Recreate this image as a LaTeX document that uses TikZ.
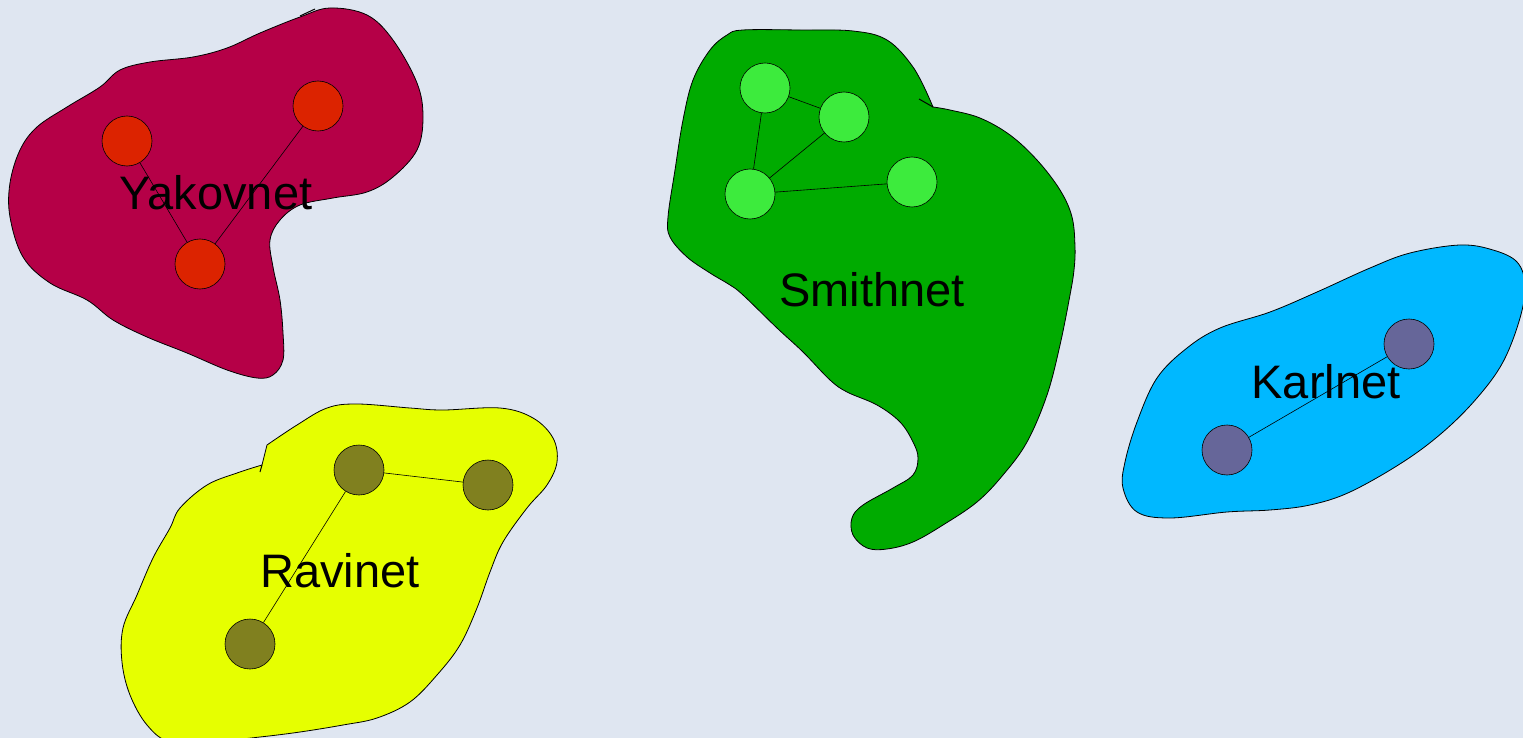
\documentclass[tikz,border=0pt]{standalone}
\usepackage{fontspec}
\setmainfont{Liberation Sans}
\definecolor{bg}{RGB}{223,230,241}
\definecolor{yakfill}{RGB}{181,0,71}
\definecolor{yaknode}{RGB}{220,35,0}
\definecolor{smifill}{RGB}{0,171,0}
\definecolor{sminode}{RGB}{61,235,61}
\definecolor{ravfill}{RGB}{230,255,0}
\definecolor{ravnode}{RGB}{128,128,31}
\definecolor{karfill}{RGB}{0,184,255}
\definecolor{karnode}{RGB}{102,102,153}
\tikzset{
  blob/.style={draw=black, line width=0.8pt},
  netnode/.style={circle, draw=black, line width=0.6pt, minimum size=50pt, inner sep=0pt},
  link/.style={draw=black, line width=0.6pt},
  netlabel/.style={font=\fontsize{47}{52}\selectfont, text=black, inner sep=0pt},
  notch/.style={draw=black, line width=1pt}
}
\begin{document}
\begin{tikzpicture}[x=1pt,y=-1pt]
\useasboundingbox (0,0) rectangle (1523,738);
\fill[bg] (0,0) rectangle (1523,738);
\clip (0,0) rectangle (1523,738);

% Yakovnet
\path[blob, fill=yakfill] plot[smooth cycle, tension=0.6] coordinates {
(300,17) (330,8) (367,15) (393,40) (417,83) (423,117) (417,150) (393,177) (367,192)
(333,198) (300,205) (280,220) (270,240) (273,267) (280,300) (283,333) (283,360)
(273,375) (257,378) (227,370) (187,353) (147,337) (113,320) (87,300) (50,283)
(23,257) (10,217) (10,183) (20,150) (37,127) (67,107) (100,87) (120,70) (150,62)
(193,57) (227,48) (260,33)};
\draw[notch] (300,16) -- (315,9);
\node[netnode, fill=yaknode] (y1) at (127,141) {};
\node[netnode, fill=yaknode] (y2) at (318,106) {};
\node[netnode, fill=yaknode] (y3) at (200,264) {};
\draw[link] (y1) -- (y3);
\draw[link] (y2) -- (y3);
\node[netlabel] (ylab) at (216,193) {Yakovnet};

% Smithnet
\path[blob, fill=smifill] plot[smooth, tension=0.6] coordinates {
(933,107) (950,110) (980,118) (1010,135) (1037,160) (1060,190) (1072,217) (1075,247)
(1074,270) (1070,295) (1060,345) (1047,395) (1027,442) (1003,475) (977,502) (943,525)
(913,542) (887,549) (867,548) (853,535) (852,518) (863,505) (893,488) (913,475)
(918,458) (913,442) (900,422) (877,405) (847,392) (830,380) (803,352) (777,328)
(743,295) (730,285) (710,273) (687,257) (670,237) (668,217) (675,170) (683,120)
(693,80) (710,50) (727,35) (743,30) (800,30) (853,31) (887,40) (913,67) (930,100)} -- cycle;
\draw[notch] (919,99) -- (933,107);
\node[netnode, fill=sminode] (s1) at (765,88) {};
\node[netnode, fill=sminode] (s2) at (844,117) {};
\node[netnode, fill=sminode] (s3) at (750,194) {};
\node[netnode, fill=sminode] (s4) at (912,182) {};
\draw[link] (s1) -- (s2);
\draw[link] (s1) -- (s3);
\draw[link] (s2) -- (s3);
\draw[link] (s3) -- (s4);
\node[netlabel] (slab) at (872,290) {Smithnet};

% Ravinet
\path[blob, fill=ravfill] plot[smooth, tension=0.6] coordinates {
(267,445) (297,425) (327,408) (357,404) (410,408) (443,410) (500,408) (533,418)
(553,438) (557,462) (547,485) (527,508) (503,542) (490,572) (477,608) (460,645)
(437,675) (410,702) (377,718) (343,725) (300,732) (260,737) (210,742) (170,742)
(147,725) (130,695) (122,662) (123,628) (137,595) (153,558) (170,528) (180,508)
(207,485) (237,473) (262,465)} -- cycle;
\draw[notch] (262,465) -- (260,472);
\node[netnode, fill=ravnode] (r1) at (359,470) {};
\node[netnode, fill=ravnode] (r2) at (488,485) {};
\node[netnode, fill=ravnode] (r3) at (250,644) {};
\draw[link] (r1) -- (r2);
\draw[link] (r1) -- (r3);
\node[netlabel] (rlab) at (340,571) {Ravinet};

% Karlnet
\path[blob, fill=karfill] plot[smooth cycle, tension=0.6] coordinates {
(1460,245) (1493,250) (1517,262) (1525,285) (1520,318) (1503,362) (1477,398)
(1443,432) (1403,462) (1350,492) (1310,505) (1270,510) (1227,512) (1170,518)
(1137,512) (1123,488) (1125,462) (1137,422) (1157,378) (1187,348) (1220,328)
(1270,312) (1317,292) (1370,268) (1410,253)};
\node[netnode, fill=karnode] (k1) at (1409,344) {};
\node[netnode, fill=karnode] (k2) at (1227,450) {};
\draw[link] (k1) -- (k2);
\node[netlabel] (klab) at (1326,382) {Karlnet};
\end{tikzpicture}
\end{document}
